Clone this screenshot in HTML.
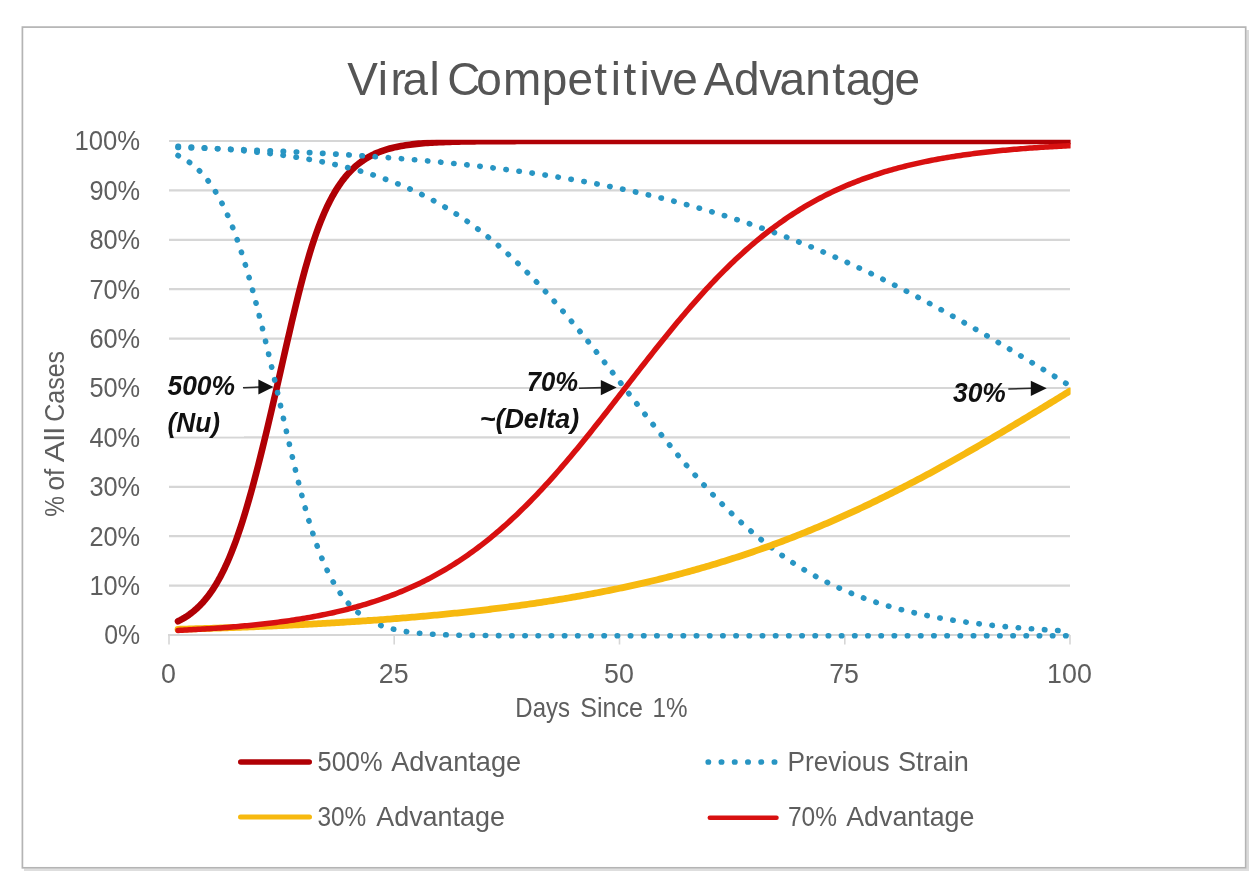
<!DOCTYPE html>
<html><head><meta charset="utf-8"><title>Viral Competitive Advantage</title>
<style>html,body{margin:0;padding:0;background:#fff;}body{width:1249px;height:871px;overflow:hidden;font-family:"Liberation Sans",sans-serif;}svg{display:block;will-change:transform;filter:blur(0.75px);}text{font-family:"Liberation Sans",sans-serif;}</style></head><body>
<svg width="1249" height="871" viewBox="0 0 1249 871">
<rect x="0" y="0" width="1249" height="871" fill="#ffffff"/>
<rect x="1246.5" y="30" width="3" height="841" fill="#dadada"/>
<rect x="24" y="868.6" width="1225" height="3" fill="#dedede"/>
<rect x="22.4" y="27.1" width="1223.3" height="840.7" fill="#ffffff" stroke="#b4b4b4" stroke-width="1.7"/>
<text transform="scale(0.9984,1)" x="347.73 378.40 391.19 403.18 430.18 442.04 448.05 477.12 503.79 542.71 568.42 595.26 611.68 624.46 640.42 651.22 673.34 698.70 704.71 735.25 760.44 780.79 806.50 833.55 847.04 871.97 895.85" y="94.6" font-size="46.0" fill="#555555" xml:space="preserve">Viral Competitive Advantage</text>
<line x1="169.0" y1="585.60" x2="1070.0" y2="585.60" stroke="#d6d6d6" stroke-width="2.2"/>
<line x1="169.0" y1="536.20" x2="1070.0" y2="536.20" stroke="#d6d6d6" stroke-width="2.2"/>
<line x1="169.0" y1="486.80" x2="1070.0" y2="486.80" stroke="#d6d6d6" stroke-width="2.2"/>
<line x1="169.0" y1="437.40" x2="1070.0" y2="437.40" stroke="#d6d6d6" stroke-width="2.2"/>
<line x1="169.0" y1="388.00" x2="1070.0" y2="388.00" stroke="#d6d6d6" stroke-width="2.2"/>
<line x1="169.0" y1="338.60" x2="1070.0" y2="338.60" stroke="#d6d6d6" stroke-width="2.2"/>
<line x1="169.0" y1="289.20" x2="1070.0" y2="289.20" stroke="#d6d6d6" stroke-width="2.2"/>
<line x1="169.0" y1="239.80" x2="1070.0" y2="239.80" stroke="#d6d6d6" stroke-width="2.2"/>
<line x1="169.0" y1="190.40" x2="1070.0" y2="190.40" stroke="#d6d6d6" stroke-width="2.2"/>
<line x1="169.0" y1="141.00" x2="1070.0" y2="141.00" stroke="#d6d6d6" stroke-width="2.2"/>
<line x1="168.0" y1="635.00" x2="1070.0" y2="635.00" stroke="#d6d6d6" stroke-width="2.2"/>
<line x1="169.0" y1="635.0" x2="169.0" y2="644.5" stroke="#d6d6d6" stroke-width="1.6"/>
<line x1="394.2" y1="635.0" x2="394.2" y2="644.5" stroke="#d6d6d6" stroke-width="1.6"/>
<line x1="619.5" y1="635.0" x2="619.5" y2="644.5" stroke="#d6d6d6" stroke-width="1.6"/>
<line x1="844.8" y1="635.0" x2="844.8" y2="644.5" stroke="#d6d6d6" stroke-width="1.6"/>
<line x1="1070.0" y1="635.0" x2="1070.0" y2="644.5" stroke="#d6d6d6" stroke-width="1.6"/>
<text x="104.3" y="644.3" font-size="28.0" fill="#5e5e5e" textLength="35.9" lengthAdjust="spacingAndGlyphs">0%</text>
<text x="89.4" y="594.9" font-size="28.0" fill="#5e5e5e" textLength="50.8" lengthAdjust="spacingAndGlyphs">10%</text>
<text x="89.4" y="545.5" font-size="28.0" fill="#5e5e5e" textLength="50.8" lengthAdjust="spacingAndGlyphs">20%</text>
<text x="89.4" y="496.1" font-size="28.0" fill="#5e5e5e" textLength="50.8" lengthAdjust="spacingAndGlyphs">30%</text>
<text x="89.4" y="446.7" font-size="28.0" fill="#5e5e5e" textLength="50.8" lengthAdjust="spacingAndGlyphs">40%</text>
<text x="89.4" y="397.3" font-size="28.0" fill="#5e5e5e" textLength="50.8" lengthAdjust="spacingAndGlyphs">50%</text>
<text x="89.4" y="347.9" font-size="28.0" fill="#5e5e5e" textLength="50.8" lengthAdjust="spacingAndGlyphs">60%</text>
<text x="89.4" y="298.5" font-size="28.0" fill="#5e5e5e" textLength="50.8" lengthAdjust="spacingAndGlyphs">70%</text>
<text x="89.4" y="249.1" font-size="28.0" fill="#5e5e5e" textLength="50.8" lengthAdjust="spacingAndGlyphs">80%</text>
<text x="89.4" y="199.7" font-size="28.0" fill="#5e5e5e" textLength="50.8" lengthAdjust="spacingAndGlyphs">90%</text>
<text x="74.5" y="150.3" font-size="28.0" fill="#5e5e5e" textLength="65.7" lengthAdjust="spacingAndGlyphs">100%</text>
<text x="161.0" y="683.1" font-size="28.0" fill="#5e5e5e" textLength="14.9" lengthAdjust="spacingAndGlyphs">0</text>
<text x="378.8" y="683.1" font-size="28.0" fill="#5e5e5e" textLength="29.8" lengthAdjust="spacingAndGlyphs">25</text>
<text x="604.0" y="683.1" font-size="28.0" fill="#5e5e5e" textLength="29.8" lengthAdjust="spacingAndGlyphs">50</text>
<text x="829.2" y="683.1" font-size="28.0" fill="#5e5e5e" textLength="29.8" lengthAdjust="spacingAndGlyphs">75</text>
<text x="1047.1" y="683.1" font-size="28.0" fill="#5e5e5e" textLength="44.7" lengthAdjust="spacingAndGlyphs">100</text>
<text x="515.3" y="716.8" font-size="28.0" fill="#5e5e5e" textLength="54.7" lengthAdjust="spacingAndGlyphs">Days</text>
<text x="580.3" y="716.8" font-size="28.0" fill="#5e5e5e" textLength="62.7" lengthAdjust="spacingAndGlyphs">Since</text>
<text x="652.5" y="716.8" font-size="28.0" fill="#5e5e5e" textLength="35.0" lengthAdjust="spacingAndGlyphs">1%</text>
<g transform="translate(63.9,516.7) rotate(-90)">
<text x="0.0" y="0.0" font-size="28.0" fill="#5e5e5e" textLength="20.7" lengthAdjust="spacingAndGlyphs">%</text>
<text x="26.2" y="0.0" font-size="28.0" fill="#5e5e5e" textLength="21.8" lengthAdjust="spacingAndGlyphs">of</text>
<text x="54.5" y="0.0" font-size="28.0" fill="#5e5e5e" textLength="34.9" lengthAdjust="spacingAndGlyphs">All</text>
<text x="94.9" y="0.0" font-size="28.0" fill="#5e5e5e" textLength="70.9" lengthAdjust="spacingAndGlyphs">Cases</text>
</g>
<rect x="160" y="368" width="84" height="68.5" fill="#ffffff"/>
<clipPath id="pc"><rect x="160" y="139.8" width="910.6" height="520"/></clipPath><g clip-path="url(#pc)">
<path d="M178.01,621.26 L180.24,620.14 L182.47,618.92 L184.70,617.60 L186.93,616.19 L189.16,614.66 L191.39,613.01 L193.62,611.24 L195.85,609.33 L198.08,607.28 L200.31,605.07 L202.54,602.71 L204.77,600.16 L207.00,597.44 L209.23,594.52 L211.46,591.39 L213.69,588.05 L215.92,584.48 L218.15,580.67 L220.38,576.62 L222.61,572.30 L224.84,567.72 L227.07,562.86 L229.30,557.72 L231.53,552.29 L233.76,546.56 L235.99,540.54 L238.22,534.22 L240.45,527.60 L242.68,520.69 L244.91,513.49 L247.14,506.02 L249.37,498.28 L251.60,490.29 L253.83,482.06 L256.06,473.61 L258.29,464.96 L260.52,456.12 L262.75,447.12 L264.98,437.96 L267.21,428.67 L269.44,419.25 L271.67,409.73 L273.90,400.12 L276.13,390.44 L278.36,380.70 L280.59,370.92 L282.82,361.12 L285.05,351.34 L287.28,341.59 L289.51,331.92 L291.74,322.35 L293.97,312.93 L296.20,303.68 L298.43,294.65 L300.66,285.87 L302.89,277.36 L305.12,269.16 L307.35,261.28 L309.58,253.75 L311.81,246.56 L314.04,239.73 L316.27,233.25 L318.50,227.12 L320.73,221.34 L322.96,215.90 L325.19,210.78 L327.42,205.97 L329.65,201.45 L331.88,197.22 L334.11,193.26 L336.34,189.55 L338.57,186.09 L340.80,182.85 L343.03,179.83 L345.26,177.01 L347.49,174.39 L349.72,171.94 L351.95,169.66 L354.18,167.54 L356.41,165.57 L358.64,163.74 L360.87,162.04 L363.10,160.46 L365.33,159.00 L367.56,157.64 L369.79,156.38 L372.02,155.21 L374.25,154.13 L376.48,153.13 L378.71,152.21 L380.94,151.35 L383.17,150.56 L385.40,149.83 L387.63,149.15 L389.86,148.52 L392.09,147.94 L394.32,147.41 L396.55,146.91 L398.78,146.46 L401.01,146.03 L403.24,145.64 L405.47,145.29 L407.70,144.95 L409.93,144.65 L412.16,144.36 L414.39,144.10 L416.62,143.86 L418.85,143.64 L421.08,143.43 L423.31,143.25 L425.54,143.07 L427.77,142.91 L430.00,142.76 L432.23,142.62 L434.46,142.50 L436.69,142.38 L438.92,142.27 L441.15,142.17 L443.38,142.08 L445.61,142.00 L447.84,141.92 L450.07,141.85 L452.30,141.78 L454.53,141.72 L456.76,141.67 L458.99,141.61 L461.22,141.57 L463.45,141.52 L465.68,141.48 L467.91,141.44 L470.14,141.41 L472.37,141.38 L474.60,141.35 L476.83,141.32 L479.06,141.30 L481.29,141.27 L483.52,141.25 L485.75,141.23 L487.98,141.21 L490.21,141.20 L492.44,141.18 L494.67,141.17 L496.90,141.15 L499.13,141.14 L501.36,141.13 L503.59,141.12 L505.82,141.11 L508.05,141.10 L510.28,141.09 L512.51,141.09 L514.74,141.08 L516.97,141.07 L519.20,141.07 L521.43,141.06 L523.66,141.06 L525.89,141.05 L528.12,141.05 L530.35,141.05 L532.58,141.04 L534.81,141.04 L537.04,141.04 L539.27,141.03 L541.50,141.03 L543.73,141.03 L545.96,141.03 L548.19,141.02 L550.42,141.02 L552.65,141.02 L554.88,141.02 L557.11,141.02 L559.34,141.02 L561.57,141.01 L563.80,141.01 L566.03,141.01 L568.26,141.01 L570.49,141.01 L572.72,141.01 L574.95,141.01 L577.18,141.01 L579.41,141.01 L581.64,141.01 L583.87,141.01 L586.10,141.01 L588.33,141.01 L590.56,141.01 L592.79,141.00 L595.02,141.00 L597.25,141.00 L599.48,141.00 L601.71,141.00 L603.94,141.00 L606.17,141.00 L608.40,141.00 L610.63,141.00 L612.86,141.00 L615.09,141.00 L617.32,141.00 L619.55,141.00 L621.78,141.00 L624.00,141.00 L626.23,141.00 L628.46,141.00 L630.69,141.00 L632.92,141.00 L635.15,141.00 L637.38,141.00 L639.61,141.00 L641.84,141.00 L644.07,141.00 L646.30,141.00 L648.53,141.00 L650.76,141.00 L652.99,141.00 L655.22,141.00 L657.45,141.00 L659.68,141.00 L661.91,141.00 L664.14,141.00 L666.37,141.00 L668.60,141.00 L670.83,141.00 L673.06,141.00 L675.29,141.00 L677.52,141.00 L679.75,141.00 L681.98,141.00 L684.21,141.00 L686.44,141.00 L688.67,141.00 L690.90,141.00 L693.13,141.00 L695.36,141.00 L697.59,141.00 L699.82,141.00 L702.05,141.00 L704.28,141.00 L706.51,141.00 L708.74,141.00 L710.97,141.00 L713.20,141.00 L715.43,141.00 L717.66,141.00 L719.89,141.00 L722.12,141.00 L724.35,141.00 L726.58,141.00 L728.81,141.00 L731.04,141.00 L733.27,141.00 L735.50,141.00 L737.73,141.00 L739.96,141.00 L742.19,141.00 L744.42,141.00 L746.65,141.00 L748.88,141.00 L751.11,141.00 L753.34,141.00 L755.57,141.00 L757.80,141.00 L760.03,141.00 L762.26,141.00 L764.49,141.00 L766.72,141.00 L768.95,141.00 L771.18,141.00 L773.41,141.00 L775.64,141.00 L777.87,141.00 L780.10,141.00 L782.33,141.00 L784.56,141.00 L786.79,141.00 L789.02,141.00 L791.25,141.00 L793.48,141.00 L795.71,141.00 L797.94,141.00 L800.17,141.00 L802.40,141.00 L804.63,141.00 L806.86,141.00 L809.09,141.00 L811.32,141.00 L813.55,141.00 L815.78,141.00 L818.01,141.00 L820.24,141.00 L822.47,141.00 L824.70,141.00 L826.93,141.00 L829.16,141.00 L831.39,141.00 L833.62,141.00 L835.85,141.00 L838.08,141.00 L840.31,141.00 L842.54,141.00 L844.77,141.00 L847.00,141.00 L849.23,141.00 L851.46,141.00 L853.69,141.00 L855.92,141.00 L858.15,141.00 L860.38,141.00 L862.61,141.00 L864.84,141.00 L867.07,141.00 L869.30,141.00 L871.53,141.00 L873.76,141.00 L875.99,141.00 L878.22,141.00 L880.45,141.00 L882.68,141.00 L884.91,141.00 L887.14,141.00 L889.37,141.00 L891.60,141.00 L893.83,141.00 L896.06,141.00 L898.29,141.00 L900.52,141.00 L902.75,141.00 L904.98,141.00 L907.21,141.00 L909.44,141.00 L911.67,141.00 L913.90,141.00 L916.13,141.00 L918.36,141.00 L920.59,141.00 L922.82,141.00 L925.05,141.00 L927.28,141.00 L929.51,141.00 L931.74,141.00 L933.97,141.00 L936.20,141.00 L938.43,141.00 L940.66,141.00 L942.89,141.00 L945.12,141.00 L947.35,141.00 L949.58,141.00 L951.81,141.00 L954.04,141.00 L956.27,141.00 L958.50,141.00 L960.73,141.00 L962.96,141.00 L965.19,141.00 L967.42,141.00 L969.65,141.00 L971.88,141.00 L974.11,141.00 L976.34,141.00 L978.57,141.00 L980.80,141.00 L983.03,141.00 L985.26,141.00 L987.49,141.00 L989.72,141.00 L991.95,141.00 L994.18,141.00 L996.41,141.00 L998.64,141.00 L1000.87,141.00 L1003.10,141.00 L1005.33,141.00 L1007.56,141.00 L1009.79,141.00 L1012.02,141.00 L1014.25,141.00 L1016.48,141.00 L1018.71,141.00 L1020.94,141.00 L1023.17,141.00 L1025.40,141.00 L1027.63,141.00 L1029.86,141.00 L1032.09,141.00 L1034.32,141.00 L1036.55,141.00 L1038.78,141.00 L1041.01,141.00 L1043.24,141.00 L1045.47,141.00 L1047.70,141.00 L1049.93,141.00 L1052.16,141.00 L1054.39,141.00 L1056.62,141.00 L1058.85,141.00 L1061.08,141.00 L1063.31,141.00 L1065.54,141.00 L1067.77,141.00 L1070.00,141.00" fill="none" stroke="#b00005" stroke-width="6.6" stroke-linecap="round" stroke-linejoin="round"/>
<path d="M178.01,155.53 L180.24,156.65 L182.47,157.87 L184.70,159.19 L186.93,160.60 L189.16,162.13 L191.39,163.78 L193.62,165.55 L195.85,167.46 L198.08,169.51 L200.31,171.72 L202.54,174.08 L204.77,176.63 L207.00,179.35 L209.23,182.27 L211.46,185.40 L213.69,188.74 L215.92,192.31 L218.15,196.12 L220.38,200.17 L222.61,204.49 L224.84,209.07 L227.07,213.93 L229.30,219.07 L231.53,224.50 L233.76,230.23 L235.99,236.25 L238.22,242.57 L240.45,249.19 L242.68,256.10 L244.91,263.30 L247.14,270.77 L249.37,278.51 L251.60,286.50 L253.83,294.73 L256.06,303.18 L258.29,311.83 L260.52,320.67 L262.75,329.67 L264.98,338.83 L267.21,348.12 L269.44,357.54 L271.67,367.06 L273.90,376.67 L276.13,386.35 L278.36,396.09 L280.59,405.87 L282.82,415.67 L285.05,425.45 L287.28,435.20 L289.51,444.87 L291.74,454.44 L293.97,463.86 L296.20,473.11 L298.43,482.14 L300.66,490.92 L302.89,499.43 L305.12,507.63 L307.35,515.51 L309.58,523.04 L311.81,530.23 L314.04,537.06 L316.27,543.54 L318.50,549.67 L320.73,555.45 L322.96,560.89 L325.19,566.01 L327.42,570.82 L329.65,575.34 L331.88,579.57 L334.11,583.53 L336.34,587.24 L338.57,590.70 L340.80,593.94 L343.03,596.96 L345.26,599.78 L347.49,602.40 L349.72,604.85 L351.95,607.13 L354.18,609.25 L356.41,611.22 L358.64,613.05 L360.87,614.75 L363.10,616.33 L365.33,617.79 L367.56,619.15 L369.79,620.41 L372.02,621.58 L374.25,622.66 L376.48,623.66 L378.71,624.58 L380.94,625.44 L383.17,626.23 L385.40,626.97 L387.63,627.64 L389.86,628.27 L392.09,628.85 L394.32,629.38 L396.55,629.88 L398.78,630.33 L401.01,630.76 L403.24,631.15 L405.47,631.51 L407.70,631.84 L409.93,632.14 L412.16,632.43 L414.39,632.69 L416.62,632.93 L418.85,633.15 L421.08,633.36 L423.31,633.54 L425.54,633.72 L427.77,633.88 L430.00,634.03 L432.23,634.17 L434.46,634.29 L436.69,634.41 L438.92,634.52 L441.15,634.62 L443.38,634.71 L445.61,634.79 L447.84,634.87 L450.07,634.94 L452.30,635.01 L454.53,635.07 L456.76,635.13 L458.99,635.18 L461.22,635.22 L463.45,635.27 L465.68,635.31 L467.91,635.35 L470.14,635.38 L472.37,635.41 L474.60,635.44 L476.83,635.47 L479.06,635.50 L481.29,635.52 L483.52,635.54 L485.75,635.56 L487.98,635.58 L490.21,635.59 L492.44,635.61 L494.67,635.62 L496.90,635.64 L499.13,635.65 L501.36,635.66 L503.59,635.67 L505.82,635.68 L508.05,635.69 L510.28,635.70 L512.51,635.70 L514.74,635.71 L516.97,635.72 L519.20,635.72 L521.43,635.73 L523.66,635.73 L525.89,635.74 L528.12,635.74 L530.35,635.74 L532.58,635.75 L534.81,635.75 L537.04,635.75 L539.27,635.76 L541.50,635.76 L543.73,635.76 L545.96,635.76 L548.19,635.77 L550.42,635.77 L552.65,635.77 L554.88,635.77 L557.11,635.77 L559.34,635.77 L561.57,635.78 L563.80,635.78 L566.03,635.78 L568.26,635.78 L570.49,635.78 L572.72,635.78 L574.95,635.78 L577.18,635.78 L579.41,635.78 L581.64,635.78 L583.87,635.78 L586.10,635.78 L588.33,635.78 L590.56,635.79 L592.79,635.79 L595.02,635.79 L597.25,635.79 L599.48,635.79 L601.71,635.79 L603.94,635.79 L606.17,635.79 L608.40,635.79 L610.63,635.79 L612.86,635.79 L615.09,635.79 L617.32,635.79 L619.55,635.79 L621.78,635.79 L624.00,635.79 L626.23,635.79 L628.46,635.79 L630.69,635.79 L632.92,635.79 L635.15,635.79 L637.38,635.79 L639.61,635.79 L641.84,635.79 L644.07,635.79 L646.30,635.79 L648.53,635.79 L650.76,635.79 L652.99,635.79 L655.22,635.79 L657.45,635.79 L659.68,635.79 L661.91,635.79 L664.14,635.79 L666.37,635.79 L668.60,635.79 L670.83,635.79 L673.06,635.79 L675.29,635.79 L677.52,635.79 L679.75,635.79 L681.98,635.79 L684.21,635.79 L686.44,635.79 L688.67,635.79 L690.90,635.79 L693.13,635.79 L695.36,635.79 L697.59,635.79 L699.82,635.79 L702.05,635.79 L704.28,635.79 L706.51,635.79 L708.74,635.79 L710.97,635.79 L713.20,635.79 L715.43,635.79 L717.66,635.79 L719.89,635.79 L722.12,635.79 L724.35,635.79 L726.58,635.79 L728.81,635.79 L731.04,635.79 L733.27,635.79 L735.50,635.79 L737.73,635.79 L739.96,635.79 L742.19,635.79 L744.42,635.79 L746.65,635.79 L748.88,635.79 L751.11,635.79 L753.34,635.79 L755.57,635.79 L757.80,635.79 L760.03,635.79 L762.26,635.79 L764.49,635.79 L766.72,635.79 L768.95,635.79 L771.18,635.79 L773.41,635.79 L775.64,635.79 L777.87,635.79 L780.10,635.79 L782.33,635.79 L784.56,635.79 L786.79,635.79 L789.02,635.79 L791.25,635.79 L793.48,635.79 L795.71,635.79 L797.94,635.79 L800.17,635.79 L802.40,635.79 L804.63,635.79 L806.86,635.79 L809.09,635.79 L811.32,635.79 L813.55,635.79 L815.78,635.79 L818.01,635.79 L820.24,635.79 L822.47,635.79 L824.70,635.79 L826.93,635.79 L829.16,635.79 L831.39,635.79 L833.62,635.79 L835.85,635.79 L838.08,635.79 L840.31,635.79 L842.54,635.79 L844.77,635.79 L847.00,635.79 L849.23,635.79 L851.46,635.79 L853.69,635.79 L855.92,635.79 L858.15,635.79 L860.38,635.79 L862.61,635.79 L864.84,635.79 L867.07,635.79 L869.30,635.79 L871.53,635.79 L873.76,635.79 L875.99,635.79 L878.22,635.79 L880.45,635.79 L882.68,635.79 L884.91,635.79 L887.14,635.79 L889.37,635.79 L891.60,635.79 L893.83,635.79 L896.06,635.79 L898.29,635.79 L900.52,635.79 L902.75,635.79 L904.98,635.79 L907.21,635.79 L909.44,635.79 L911.67,635.79 L913.90,635.79 L916.13,635.79 L918.36,635.79 L920.59,635.79 L922.82,635.79 L925.05,635.79 L927.28,635.79 L929.51,635.79 L931.74,635.79 L933.97,635.79 L936.20,635.79 L938.43,635.79 L940.66,635.79 L942.89,635.79 L945.12,635.79 L947.35,635.79 L949.58,635.79 L951.81,635.79 L954.04,635.79 L956.27,635.79 L958.50,635.79 L960.73,635.79 L962.96,635.79 L965.19,635.79 L967.42,635.79 L969.65,635.79 L971.88,635.79 L974.11,635.79 L976.34,635.79 L978.57,635.79 L980.80,635.79 L983.03,635.79 L985.26,635.79 L987.49,635.79 L989.72,635.79 L991.95,635.79 L994.18,635.79 L996.41,635.79 L998.64,635.79 L1000.87,635.79 L1003.10,635.79 L1005.33,635.79 L1007.56,635.79 L1009.79,635.79 L1012.02,635.79 L1014.25,635.79 L1016.48,635.79 L1018.71,635.79 L1020.94,635.79 L1023.17,635.79 L1025.40,635.79 L1027.63,635.79 L1029.86,635.79 L1032.09,635.79 L1034.32,635.79 L1036.55,635.79 L1038.78,635.79 L1041.01,635.79 L1043.24,635.79 L1045.47,635.79 L1047.70,635.79 L1049.93,635.79 L1052.16,635.79 L1054.39,635.79 L1056.62,635.79 L1058.85,635.79 L1061.08,635.79 L1063.31,635.79 L1065.54,635.79 L1067.77,635.79 L1070.00,635.79" fill="none" stroke="#2895c3" stroke-width="5.6" stroke-dasharray="0.4 12.79" stroke-linecap="round"/>
<path d="M178.01,146.38 L180.24,146.48 L182.47,146.59 L184.70,146.71 L186.93,146.82 L189.16,146.94 L191.39,147.06 L193.62,147.18 L195.85,147.31 L198.08,147.43 L200.31,147.57 L202.54,147.70 L204.77,147.84 L207.00,147.98 L209.23,148.12 L211.46,148.27 L213.69,148.42 L215.92,148.57 L218.15,148.73 L220.38,148.89 L222.61,149.06 L224.84,149.23 L227.07,149.40 L229.30,149.57 L231.53,149.76 L233.76,149.94 L235.99,150.13 L238.22,150.32 L240.45,150.52 L242.68,150.72 L244.91,150.93 L247.14,151.14 L249.37,151.36 L251.60,151.58 L253.83,151.80 L256.06,152.03 L258.29,152.27 L260.52,152.51 L262.75,152.76 L264.98,153.01 L267.21,153.27 L269.44,153.53 L271.67,153.80 L273.90,154.08 L276.13,154.36 L278.36,154.65 L280.59,154.94 L282.82,155.25 L285.05,155.55 L287.28,155.87 L289.51,156.19 L291.74,156.52 L293.97,156.86 L296.20,157.20 L298.43,157.55 L300.66,157.91 L302.89,158.28 L305.12,158.65 L307.35,159.04 L309.58,159.43 L311.81,159.83 L314.04,160.24 L316.27,160.66 L318.50,161.08 L320.73,161.52 L322.96,161.97 L325.19,162.42 L327.42,162.89 L329.65,163.36 L331.88,163.85 L334.11,164.34 L336.34,164.85 L338.57,165.37 L340.80,165.90 L343.03,166.44 L345.26,166.99 L347.49,167.55 L349.72,168.12 L351.95,168.71 L354.18,169.31 L356.41,169.92 L358.64,170.55 L360.87,171.18 L363.10,171.83 L365.33,172.50 L367.56,173.18 L369.79,173.87 L372.02,174.57 L374.25,175.29 L376.48,176.03 L378.71,176.78 L380.94,177.54 L383.17,178.32 L385.40,179.12 L387.63,179.93 L389.86,180.76 L392.09,181.60 L394.32,182.46 L396.55,183.34 L398.78,184.24 L401.01,185.15 L403.24,186.08 L405.47,187.03 L407.70,187.99 L409.93,188.98 L412.16,189.98 L414.39,191.00 L416.62,192.04 L418.85,193.10 L421.08,194.19 L423.31,195.29 L425.54,196.41 L427.77,197.55 L430.00,198.71 L432.23,199.90 L434.46,201.10 L436.69,202.33 L438.92,203.57 L441.15,204.84 L443.38,206.14 L445.61,207.45 L447.84,208.79 L450.07,210.15 L452.30,211.53 L454.53,212.94 L456.76,214.37 L458.99,215.82 L461.22,217.30 L463.45,218.80 L465.68,220.33 L467.91,221.88 L470.14,223.45 L472.37,225.05 L474.60,226.68 L476.83,228.33 L479.06,230.00 L481.29,231.70 L483.52,233.43 L485.75,235.18 L487.98,236.96 L490.21,238.76 L492.44,240.59 L494.67,242.44 L496.90,244.32 L499.13,246.23 L501.36,248.16 L503.59,250.11 L505.82,252.10 L508.05,254.10 L510.28,256.14 L512.51,258.20 L514.74,260.28 L516.97,262.39 L519.20,264.53 L521.43,266.69 L523.66,268.88 L525.89,271.09 L528.12,273.32 L530.35,275.58 L532.58,277.87 L534.81,280.17 L537.04,282.51 L539.27,284.86 L541.50,287.24 L543.73,289.64 L545.96,292.07 L548.19,294.51 L550.42,296.98 L552.65,299.47 L554.88,301.98 L557.11,304.51 L559.34,307.06 L561.57,309.63 L563.80,312.22 L566.03,314.83 L568.26,317.46 L570.49,320.11 L572.72,322.77 L574.95,325.45 L577.18,328.14 L579.41,330.85 L581.64,333.58 L583.87,336.32 L586.10,339.07 L588.33,341.84 L590.56,344.62 L592.79,347.41 L595.02,350.21 L597.25,353.02 L599.48,355.84 L601.71,358.67 L603.94,361.50 L606.17,364.35 L608.40,367.20 L610.63,370.06 L612.86,372.92 L615.09,375.79 L617.32,378.66 L619.55,381.53 L621.78,384.40 L624.00,387.28 L626.23,390.16 L628.46,393.03 L630.69,395.91 L632.92,398.78 L635.15,401.65 L637.38,404.52 L639.61,407.38 L641.84,410.24 L644.07,413.09 L646.30,415.93 L648.53,418.77 L650.76,421.60 L652.99,424.42 L655.22,427.23 L657.45,430.03 L659.68,432.82 L661.91,435.60 L664.14,438.37 L666.37,441.12 L668.60,443.86 L670.83,446.59 L673.06,449.30 L675.29,452.00 L677.52,454.68 L679.75,457.34 L681.98,459.99 L684.21,462.62 L686.44,465.23 L688.67,467.82 L690.90,470.39 L693.13,472.94 L695.36,475.47 L697.59,477.99 L699.82,480.48 L702.05,482.94 L704.28,485.39 L706.51,487.82 L708.74,490.22 L710.97,492.60 L713.20,494.96 L715.43,497.29 L717.66,499.60 L719.89,501.88 L722.12,504.15 L724.35,506.38 L726.58,508.59 L728.81,510.78 L731.04,512.94 L733.27,515.08 L735.50,517.19 L737.73,519.28 L739.96,521.34 L742.19,523.37 L744.42,525.38 L746.65,527.37 L748.88,529.33 L751.11,531.26 L753.34,533.16 L755.57,535.05 L757.80,536.90 L760.03,538.73 L762.26,540.53 L764.49,542.31 L766.72,544.06 L768.95,545.79 L771.18,547.49 L773.41,549.17 L775.64,550.82 L777.87,552.45 L780.10,554.05 L782.33,555.62 L784.56,557.17 L786.79,558.70 L789.02,560.20 L791.25,561.68 L793.48,563.14 L795.71,564.57 L797.94,565.98 L800.17,567.36 L802.40,568.72 L804.63,570.06 L806.86,571.38 L809.09,572.67 L811.32,573.94 L813.55,575.19 L815.78,576.42 L818.01,577.63 L820.24,578.81 L822.47,579.97 L824.70,581.12 L826.93,582.24 L829.16,583.34 L831.39,584.42 L833.62,585.48 L835.85,586.53 L838.08,587.55 L840.31,588.55 L842.54,589.54 L844.77,590.51 L847.00,591.46 L849.23,592.39 L851.46,593.30 L853.69,594.20 L855.92,595.07 L858.15,595.94 L860.38,596.78 L862.61,597.61 L864.84,598.42 L867.07,599.22 L869.30,600.00 L871.53,600.77 L873.76,601.52 L875.99,602.25 L878.22,602.97 L880.45,603.68 L882.68,604.37 L884.91,605.05 L887.14,605.71 L889.37,606.36 L891.60,607.00 L893.83,607.63 L896.06,608.24 L898.29,608.84 L900.52,609.43 L902.75,610.00 L904.98,610.57 L907.21,611.12 L909.44,611.66 L911.67,612.19 L913.90,612.70 L916.13,613.21 L918.36,613.71 L920.59,614.19 L922.82,614.67 L925.05,615.14 L927.28,615.59 L929.51,616.04 L931.74,616.48 L933.97,616.90 L936.20,617.32 L938.43,617.73 L940.66,618.13 L942.89,618.52 L945.12,618.91 L947.35,619.28 L949.58,619.65 L951.81,620.01 L954.04,620.36 L956.27,620.71 L958.50,621.04 L960.73,621.37 L962.96,621.70 L965.19,622.01 L967.42,622.32 L969.65,622.62 L971.88,622.92 L974.11,623.21 L976.34,623.49 L978.57,623.76 L980.80,624.03 L983.03,624.30 L985.26,624.56 L987.49,624.81 L989.72,625.06 L991.95,625.30 L994.18,625.54 L996.41,625.77 L998.64,625.99 L1000.87,626.21 L1003.10,626.43 L1005.33,626.64 L1007.56,626.85 L1009.79,627.05 L1012.02,627.25 L1014.25,627.44 L1016.48,627.63 L1018.71,627.82 L1020.94,628.00 L1023.17,628.17 L1025.40,628.35 L1027.63,628.52 L1029.86,628.68 L1032.09,628.84 L1034.32,629.00 L1036.55,629.15 L1038.78,629.30 L1041.01,629.45 L1043.24,629.60 L1045.47,629.74 L1047.70,629.87 L1049.93,630.01 L1052.16,630.14 L1054.39,630.27 L1056.62,630.39 L1058.85,630.52 L1061.08,630.64 L1063.31,630.76 L1065.54,630.87 L1067.77,630.98 L1070.00,631.09" fill="none" stroke="#2895c3" stroke-width="5.6" stroke-dasharray="0.4 12.77" stroke-linecap="round"/>
<path d="M178.01,147.50 L180.24,147.56 L182.47,147.62 L184.70,147.69 L186.93,147.75 L189.16,147.82 L191.39,147.88 L193.62,147.95 L195.85,148.02 L198.08,148.09 L200.31,148.16 L202.54,148.22 L204.77,148.30 L207.00,148.37 L209.23,148.44 L211.46,148.51 L213.69,148.59 L215.92,148.66 L218.15,148.74 L220.38,148.81 L222.61,148.89 L224.84,148.97 L227.07,149.05 L229.30,149.12 L231.53,149.21 L233.76,149.29 L235.99,149.37 L238.22,149.45 L240.45,149.54 L242.68,149.62 L244.91,149.71 L247.14,149.79 L249.37,149.88 L251.60,149.97 L253.83,150.06 L256.06,150.15 L258.29,150.24 L260.52,150.33 L262.75,150.43 L264.98,150.52 L267.21,150.62 L269.44,150.71 L271.67,150.81 L273.90,150.91 L276.13,151.01 L278.36,151.11 L280.59,151.21 L282.82,151.31 L285.05,151.42 L287.28,151.52 L289.51,151.63 L291.74,151.73 L293.97,151.84 L296.20,151.95 L298.43,152.06 L300.66,152.18 L302.89,152.29 L305.12,152.40 L307.35,152.52 L309.58,152.63 L311.81,152.75 L314.04,152.87 L316.27,152.99 L318.50,153.11 L320.73,153.24 L322.96,153.36 L325.19,153.49 L327.42,153.61 L329.65,153.74 L331.88,153.87 L334.11,154.00 L336.34,154.14 L338.57,154.27 L340.80,154.40 L343.03,154.54 L345.26,154.68 L347.49,154.82 L349.72,154.96 L351.95,155.10 L354.18,155.25 L356.41,155.39 L358.64,155.54 L360.87,155.69 L363.10,155.84 L365.33,155.99 L367.56,156.14 L369.79,156.30 L372.02,156.46 L374.25,156.61 L376.48,156.77 L378.71,156.94 L380.94,157.10 L383.17,157.26 L385.40,157.43 L387.63,157.60 L389.86,157.77 L392.09,157.94 L394.32,158.11 L396.55,158.29 L398.78,158.47 L401.01,158.65 L403.24,158.83 L405.47,159.01 L407.70,159.20 L409.93,159.38 L412.16,159.57 L414.39,159.76 L416.62,159.95 L418.85,160.15 L421.08,160.34 L423.31,160.54 L425.54,160.74 L427.77,160.95 L430.00,161.15 L432.23,161.36 L434.46,161.57 L436.69,161.78 L438.92,161.99 L441.15,162.21 L443.38,162.42 L445.61,162.64 L447.84,162.87 L450.07,163.09 L452.30,163.32 L454.53,163.55 L456.76,163.78 L458.99,164.01 L461.22,164.25 L463.45,164.49 L465.68,164.73 L467.91,164.97 L470.14,165.22 L472.37,165.46 L474.60,165.71 L476.83,165.97 L479.06,166.22 L481.29,166.48 L483.52,166.74 L485.75,167.01 L487.98,167.27 L490.21,167.54 L492.44,167.81 L494.67,168.09 L496.90,168.36 L499.13,168.64 L501.36,168.92 L503.59,169.21 L505.82,169.50 L508.05,169.79 L510.28,170.08 L512.51,170.38 L514.74,170.68 L516.97,170.98 L519.20,171.29 L521.43,171.59 L523.66,171.90 L525.89,172.22 L528.12,172.54 L530.35,172.86 L532.58,173.18 L534.81,173.51 L537.04,173.84 L539.27,174.17 L541.50,174.51 L543.73,174.85 L545.96,175.19 L548.19,175.54 L550.42,175.89 L552.65,176.24 L554.88,176.59 L557.11,176.95 L559.34,177.32 L561.57,177.68 L563.80,178.05 L566.03,178.43 L568.26,178.80 L570.49,179.18 L572.72,179.57 L574.95,179.96 L577.18,180.35 L579.41,180.74 L581.64,181.14 L583.87,181.54 L586.10,181.95 L588.33,182.36 L590.56,182.77 L592.79,183.19 L595.02,183.61 L597.25,184.04 L599.48,184.47 L601.71,184.90 L603.94,185.34 L606.17,185.78 L608.40,186.23 L610.63,186.68 L612.86,187.13 L615.09,187.59 L617.32,188.05 L619.55,188.51 L621.78,188.98 L624.00,189.46 L626.23,189.94 L628.46,190.42 L630.69,190.91 L632.92,191.40 L635.15,191.90 L637.38,192.40 L639.61,192.90 L641.84,193.41 L644.07,193.92 L646.30,194.44 L648.53,194.96 L650.76,195.49 L652.99,196.02 L655.22,196.56 L657.45,197.10 L659.68,197.65 L661.91,198.20 L664.14,198.75 L666.37,199.31 L668.60,199.88 L670.83,200.45 L673.06,201.02 L675.29,201.60 L677.52,202.18 L679.75,202.77 L681.98,203.37 L684.21,203.96 L686.44,204.57 L688.67,205.18 L690.90,205.79 L693.13,206.41 L695.36,207.03 L697.59,207.66 L699.82,208.30 L702.05,208.94 L704.28,209.58 L706.51,210.23 L708.74,210.89 L710.97,211.55 L713.20,212.21 L715.43,212.88 L717.66,213.56 L719.89,214.24 L722.12,214.93 L724.35,215.62 L726.58,216.31 L728.81,217.02 L731.04,217.73 L733.27,218.44 L735.50,219.16 L737.73,219.88 L739.96,220.61 L742.19,221.35 L744.42,222.09 L746.65,222.84 L748.88,223.59 L751.11,224.35 L753.34,225.11 L755.57,225.88 L757.80,226.65 L760.03,227.44 L762.26,228.22 L764.49,229.01 L766.72,229.81 L768.95,230.61 L771.18,231.42 L773.41,232.24 L775.64,233.06 L777.87,233.88 L780.10,234.72 L782.33,235.55 L784.56,236.40 L786.79,237.24 L789.02,238.10 L791.25,238.96 L793.48,239.83 L795.71,240.70 L797.94,241.58 L800.17,242.46 L802.40,243.35 L804.63,244.25 L806.86,245.15 L809.09,246.05 L811.32,246.97 L813.55,247.89 L815.78,248.81 L818.01,249.74 L820.24,250.68 L822.47,251.62 L824.70,252.57 L826.93,253.52 L829.16,254.48 L831.39,255.45 L833.62,256.42 L835.85,257.39 L838.08,258.38 L840.31,259.36 L842.54,260.36 L844.77,261.36 L847.00,262.36 L849.23,263.37 L851.46,264.39 L853.69,265.41 L855.92,266.44 L858.15,267.48 L860.38,268.52 L862.61,269.56 L864.84,270.61 L867.07,271.67 L869.30,272.73 L871.53,273.80 L873.76,274.87 L875.99,275.95 L878.22,277.03 L880.45,278.12 L882.68,279.22 L884.91,280.32 L887.14,281.42 L889.37,282.53 L891.60,283.65 L893.83,284.77 L896.06,285.90 L898.29,287.03 L900.52,288.17 L902.75,289.31 L904.98,290.46 L907.21,291.61 L909.44,292.77 L911.67,293.93 L913.90,295.09 L916.13,296.27 L918.36,297.44 L920.59,298.63 L922.82,299.81 L925.05,301.00 L927.28,302.20 L929.51,303.40 L931.74,304.61 L933.97,305.82 L936.20,307.03 L938.43,308.25 L940.66,309.47 L942.89,310.70 L945.12,311.93 L947.35,313.17 L949.58,314.41 L951.81,315.65 L954.04,316.90 L956.27,318.15 L958.50,319.41 L960.73,320.67 L962.96,321.93 L965.19,323.20 L967.42,324.47 L969.65,325.75 L971.88,327.03 L974.11,328.31 L976.34,329.60 L978.57,330.89 L980.80,332.18 L983.03,333.48 L985.26,334.78 L987.49,336.08 L989.72,337.38 L991.95,338.69 L994.18,340.00 L996.41,341.32 L998.64,342.64 L1000.87,343.96 L1003.10,345.28 L1005.33,346.60 L1007.56,347.93 L1009.79,349.26 L1012.02,350.59 L1014.25,351.93 L1016.48,353.27 L1018.71,354.61 L1020.94,355.95 L1023.17,357.29 L1025.40,358.63 L1027.63,359.98 L1029.86,361.33 L1032.09,362.68 L1034.32,364.03 L1036.55,365.39 L1038.78,366.74 L1041.01,368.10 L1043.24,369.45 L1045.47,370.81 L1047.70,372.17 L1049.93,373.53 L1052.16,374.89 L1054.39,376.26 L1056.62,377.62 L1058.85,378.98 L1061.08,380.35 L1063.31,381.71 L1065.54,383.08 L1067.77,384.44 L1070.00,385.81" fill="none" stroke="#2895c3" stroke-width="5.6" stroke-dasharray="0.4 12.75" stroke-linecap="round"/>
<path d="M178.01,629.29 L180.24,629.23 L182.47,629.17 L184.70,629.10 L186.93,629.04 L189.16,628.97 L191.39,628.91 L193.62,628.84 L195.85,628.77 L198.08,628.70 L200.31,628.64 L202.54,628.57 L204.77,628.49 L207.00,628.42 L209.23,628.35 L211.46,628.28 L213.69,628.20 L215.92,628.13 L218.15,628.05 L220.38,627.98 L222.61,627.90 L224.84,627.82 L227.07,627.74 L229.30,627.67 L231.53,627.59 L233.76,627.50 L235.99,627.42 L238.22,627.34 L240.45,627.25 L242.68,627.17 L244.91,627.08 L247.14,627.00 L249.37,626.91 L251.60,626.82 L253.83,626.73 L256.06,626.64 L258.29,626.55 L260.52,626.46 L262.75,626.36 L264.98,626.27 L267.21,626.17 L269.44,626.08 L271.67,625.98 L273.90,625.88 L276.13,625.78 L278.36,625.68 L280.59,625.58 L282.82,625.48 L285.05,625.37 L287.28,625.27 L289.51,625.16 L291.74,625.06 L293.97,624.95 L296.20,624.84 L298.43,624.73 L300.66,624.62 L302.89,624.50 L305.12,624.39 L307.35,624.27 L309.58,624.16 L311.81,624.04 L314.04,623.92 L316.27,623.80 L318.50,623.68 L320.73,623.55 L322.96,623.43 L325.19,623.30 L327.42,623.18 L329.65,623.05 L331.88,622.92 L334.11,622.79 L336.34,622.65 L338.57,622.52 L340.80,622.39 L343.03,622.25 L345.26,622.11 L347.49,621.97 L349.72,621.83 L351.95,621.69 L354.18,621.54 L356.41,621.40 L358.64,621.25 L360.87,621.10 L363.10,620.95 L365.33,620.80 L367.56,620.65 L369.79,620.49 L372.02,620.33 L374.25,620.18 L376.48,620.02 L378.71,619.86 L380.94,619.69 L383.17,619.53 L385.40,619.36 L387.63,619.19 L389.86,619.02 L392.09,618.85 L394.32,618.68 L396.55,618.50 L398.78,618.32 L401.01,618.14 L403.24,617.96 L405.47,617.78 L407.70,617.60 L409.93,617.41 L412.16,617.22 L414.39,617.03 L416.62,616.84 L418.85,616.64 L421.08,616.45 L423.31,616.25 L425.54,616.05 L427.77,615.84 L430.00,615.64 L432.23,615.43 L434.46,615.22 L436.69,615.01 L438.92,614.80 L441.15,614.58 L443.38,614.37 L445.61,614.15 L447.84,613.92 L450.07,613.70 L452.30,613.47 L454.53,613.24 L456.76,613.01 L458.99,612.78 L461.22,612.54 L463.45,612.30 L465.68,612.06 L467.91,611.82 L470.14,611.58 L472.37,611.33 L474.60,611.08 L476.83,610.82 L479.06,610.57 L481.29,610.31 L483.52,610.05 L485.75,609.79 L487.98,609.52 L490.21,609.25 L492.44,608.98 L494.67,608.70 L496.90,608.43 L499.13,608.15 L501.36,607.87 L503.59,607.58 L505.82,607.29 L508.05,607.00 L510.28,606.71 L512.51,606.41 L514.74,606.11 L516.97,605.81 L519.20,605.51 L521.43,605.20 L523.66,604.89 L525.89,604.57 L528.12,604.25 L530.35,603.93 L532.58,603.61 L534.81,603.28 L537.04,602.95 L539.27,602.62 L541.50,602.28 L543.73,601.94 L545.96,601.60 L548.19,601.25 L550.42,600.91 L552.65,600.55 L554.88,600.20 L557.11,599.84 L559.34,599.47 L561.57,599.11 L563.80,598.74 L566.03,598.36 L568.26,597.99 L570.49,597.61 L572.72,597.22 L574.95,596.83 L577.18,596.44 L579.41,596.05 L581.64,595.65 L583.87,595.25 L586.10,594.84 L588.33,594.43 L590.56,594.02 L592.79,593.60 L595.02,593.18 L597.25,592.75 L599.48,592.32 L601.71,591.89 L603.94,591.45 L606.17,591.01 L608.40,590.56 L610.63,590.11 L612.86,589.66 L615.09,589.20 L617.32,588.74 L619.55,588.28 L621.78,587.81 L624.00,587.33 L626.23,586.85 L628.46,586.37 L630.69,585.88 L632.92,585.39 L635.15,584.90 L637.38,584.39 L639.61,583.89 L641.84,583.38 L644.07,582.87 L646.30,582.35 L648.53,581.83 L650.76,581.30 L652.99,580.77 L655.22,580.23 L657.45,579.69 L659.68,579.14 L661.91,578.59 L664.14,578.04 L666.37,577.48 L668.60,576.91 L670.83,576.34 L673.06,575.77 L675.29,575.19 L677.52,574.61 L679.75,574.02 L681.98,573.42 L684.21,572.83 L686.44,572.22 L688.67,571.61 L690.90,571.00 L693.13,570.38 L695.36,569.76 L697.59,569.13 L699.82,568.49 L702.05,567.85 L704.28,567.21 L706.51,566.56 L708.74,565.91 L710.97,565.24 L713.20,564.58 L715.43,563.91 L717.66,563.23 L719.89,562.55 L722.12,561.86 L724.35,561.17 L726.58,560.48 L728.81,559.77 L731.04,559.06 L733.27,558.35 L735.50,557.63 L737.73,556.91 L739.96,556.18 L742.19,555.44 L744.42,554.70 L746.65,553.95 L748.88,553.20 L751.11,552.44 L753.34,551.68 L755.57,550.91 L757.80,550.14 L760.03,549.36 L762.26,548.57 L764.49,547.78 L766.72,546.98 L768.95,546.18 L771.18,545.37 L773.41,544.55 L775.64,543.73 L777.87,542.91 L780.10,542.08 L782.33,541.24 L784.56,540.39 L786.79,539.55 L789.02,538.69 L791.25,537.83 L793.48,536.96 L795.71,536.09 L797.94,535.21 L800.17,534.33 L802.40,533.44 L804.63,532.54 L806.86,531.64 L809.09,530.74 L811.32,529.82 L813.55,528.90 L815.78,527.98 L818.01,527.05 L820.24,526.11 L822.47,525.17 L824.70,524.22 L826.93,523.27 L829.16,522.31 L831.39,521.34 L833.62,520.37 L835.85,519.40 L838.08,518.41 L840.31,517.43 L842.54,516.43 L844.77,515.43 L847.00,514.43 L849.23,513.42 L851.46,512.40 L853.69,511.38 L855.92,510.35 L858.15,509.31 L860.38,508.27 L862.61,507.23 L864.84,506.18 L867.07,505.12 L869.30,504.06 L871.53,502.99 L873.76,501.92 L875.99,500.84 L878.22,499.76 L880.45,498.67 L882.68,497.57 L884.91,496.47 L887.14,495.37 L889.37,494.26 L891.60,493.14 L893.83,492.02 L896.06,490.89 L898.29,489.76 L900.52,488.62 L902.75,487.48 L904.98,486.33 L907.21,485.18 L909.44,484.03 L911.67,482.86 L913.90,481.70 L916.13,480.52 L918.36,479.35 L920.59,478.16 L922.82,476.98 L925.05,475.79 L927.28,474.59 L929.51,473.39 L931.74,472.18 L933.97,470.97 L936.20,469.76 L938.43,468.54 L940.66,467.32 L942.89,466.09 L945.12,464.86 L947.35,463.62 L949.58,462.38 L951.81,461.14 L954.04,459.89 L956.27,458.64 L958.50,457.38 L960.73,456.12 L962.96,454.86 L965.19,453.59 L967.42,452.32 L969.65,451.04 L971.88,449.76 L974.11,448.48 L976.34,447.19 L978.57,445.90 L980.80,444.61 L983.03,443.31 L985.26,442.01 L987.49,440.71 L989.72,439.41 L991.95,438.10 L994.18,436.79 L996.41,435.47 L998.64,434.15 L1000.87,432.83 L1003.10,431.51 L1005.33,430.19 L1007.56,428.86 L1009.79,427.53 L1012.02,426.20 L1014.25,424.86 L1016.48,423.52 L1018.71,422.19 L1020.94,420.84 L1023.17,419.50 L1025.40,418.16 L1027.63,416.81 L1029.86,415.46 L1032.09,414.11 L1034.32,412.76 L1036.55,411.41 L1038.78,410.05 L1041.01,408.69 L1043.24,407.34 L1045.47,405.98 L1047.70,404.62 L1049.93,403.26 L1052.16,401.90 L1054.39,400.53 L1056.62,399.17 L1058.85,397.81 L1061.08,396.44 L1063.31,395.08 L1065.54,393.71 L1067.77,392.35 L1070.00,390.98" fill="none" stroke="#f7b90f" stroke-width="6.8" stroke-linecap="round" stroke-linejoin="round"/>
<path d="M178.01,630.41 L180.24,630.31 L182.47,630.20 L184.70,630.09 L186.93,629.97 L189.16,629.85 L191.39,629.73 L193.62,629.61 L195.85,629.49 L198.08,629.36 L200.31,629.23 L202.54,629.09 L204.77,628.95 L207.00,628.81 L209.23,628.67 L211.46,628.52 L213.69,628.37 L215.92,628.22 L218.15,628.06 L220.38,627.90 L222.61,627.73 L224.84,627.56 L227.07,627.39 L229.30,627.22 L231.53,627.04 L233.76,626.85 L235.99,626.66 L238.22,626.47 L240.45,626.27 L242.68,626.07 L244.91,625.86 L247.14,625.65 L249.37,625.44 L251.60,625.21 L253.83,624.99 L256.06,624.76 L258.29,624.52 L260.52,624.28 L262.75,624.03 L264.98,623.78 L267.21,623.52 L269.44,623.26 L271.67,622.99 L273.90,622.71 L276.13,622.43 L278.36,622.14 L280.59,621.85 L282.82,621.54 L285.05,621.24 L287.28,620.92 L289.51,620.60 L291.74,620.27 L293.97,619.93 L296.20,619.59 L298.43,619.24 L300.66,618.88 L302.89,618.51 L305.12,618.14 L307.35,617.75 L309.58,617.36 L311.81,616.96 L314.04,616.55 L316.27,616.13 L318.50,615.71 L320.73,615.27 L322.96,614.82 L325.19,614.37 L327.42,613.90 L329.65,613.43 L331.88,612.94 L334.11,612.45 L336.34,611.94 L338.57,611.42 L340.80,610.89 L343.03,610.35 L345.26,609.80 L347.49,609.24 L349.72,608.67 L351.95,608.08 L354.18,607.48 L356.41,606.87 L358.64,606.24 L360.87,605.61 L363.10,604.96 L365.33,604.29 L367.56,603.61 L369.79,602.92 L372.02,602.22 L374.25,601.50 L376.48,600.76 L378.71,600.01 L380.94,599.25 L383.17,598.47 L385.40,597.67 L387.63,596.86 L389.86,596.03 L392.09,595.19 L394.32,594.33 L396.55,593.45 L398.78,592.56 L401.01,591.64 L403.24,590.71 L405.47,589.77 L407.70,588.80 L409.93,587.81 L412.16,586.81 L414.39,585.79 L416.62,584.75 L418.85,583.69 L421.08,582.60 L423.31,581.50 L425.54,580.38 L427.77,579.24 L430.00,578.08 L432.23,576.90 L434.46,575.69 L436.69,574.46 L438.92,573.22 L441.15,571.95 L443.38,570.65 L445.61,569.34 L447.84,568.00 L450.07,566.64 L452.30,565.26 L454.53,563.85 L456.76,562.42 L458.99,560.97 L461.22,559.49 L463.45,557.99 L465.68,556.46 L467.91,554.91 L470.14,553.34 L472.37,551.74 L474.60,550.11 L476.83,548.46 L479.06,546.79 L481.29,545.09 L483.52,543.36 L485.75,541.61 L487.98,539.83 L490.21,538.03 L492.44,536.20 L494.67,534.35 L496.90,532.47 L499.13,530.56 L501.36,528.63 L503.59,526.68 L505.82,524.69 L508.05,522.69 L510.28,520.65 L512.51,518.59 L514.74,516.51 L516.97,514.40 L519.20,512.26 L521.43,510.10 L523.66,507.91 L525.89,505.70 L528.12,503.47 L530.35,501.21 L532.58,498.92 L534.81,496.62 L537.04,494.28 L539.27,491.93 L541.50,489.55 L543.73,487.15 L545.96,484.72 L548.19,482.28 L550.42,479.81 L552.65,477.32 L554.88,474.81 L557.11,472.28 L559.34,469.73 L561.57,467.16 L563.80,464.57 L566.03,461.96 L568.26,459.33 L570.49,456.68 L572.72,454.02 L574.95,451.34 L577.18,448.65 L579.41,445.94 L581.64,443.21 L583.87,440.47 L586.10,437.72 L588.33,434.95 L590.56,432.17 L592.79,429.38 L595.02,426.58 L597.25,423.77 L599.48,420.95 L601.71,418.12 L603.94,415.29 L606.17,412.44 L608.40,409.59 L610.63,406.73 L612.86,403.87 L615.09,401.00 L617.32,398.13 L619.55,395.26 L621.78,392.39 L624.00,389.51 L626.23,386.63 L628.46,383.76 L630.69,380.88 L632.92,378.01 L635.15,375.14 L637.38,372.27 L639.61,369.41 L641.84,366.55 L644.07,363.70 L646.30,360.86 L648.53,358.02 L650.76,355.19 L652.99,352.37 L655.22,349.56 L657.45,346.76 L659.68,343.97 L661.91,341.19 L664.14,338.42 L666.37,335.67 L668.60,332.93 L670.83,330.20 L673.06,327.49 L675.29,324.79 L677.52,322.11 L679.75,319.45 L681.98,316.80 L684.21,314.18 L686.44,311.57 L688.67,308.97 L690.90,306.40 L693.13,303.85 L695.36,301.32 L697.59,298.81 L699.82,296.31 L702.05,293.85 L704.28,291.40 L706.51,288.97 L708.74,286.57 L710.97,284.19 L713.20,281.83 L715.43,279.50 L717.66,277.19 L719.89,274.91 L722.12,272.64 L724.35,270.41 L726.58,268.20 L728.81,266.01 L731.04,263.85 L733.27,261.71 L735.50,259.60 L737.73,257.51 L739.96,255.45 L742.19,253.42 L744.42,251.41 L746.65,249.42 L748.88,247.46 L751.11,245.53 L753.34,243.63 L755.57,241.75 L757.80,239.89 L760.03,238.06 L762.26,236.26 L764.49,234.48 L766.72,232.73 L768.95,231.00 L771.18,229.30 L773.41,227.62 L775.64,225.97 L777.87,224.35 L780.10,222.74 L782.33,221.17 L784.56,219.62 L786.79,218.09 L789.02,216.59 L791.25,215.11 L793.48,213.65 L795.71,212.22 L797.94,210.81 L800.17,209.43 L802.40,208.07 L804.63,206.73 L806.86,205.41 L809.09,204.12 L811.32,202.85 L813.55,201.60 L815.78,200.37 L818.01,199.17 L820.24,197.98 L822.47,196.82 L824.70,195.67 L826.93,194.55 L829.16,193.45 L831.39,192.37 L833.62,191.31 L835.85,190.26 L838.08,189.24 L840.31,188.24 L842.54,187.25 L844.77,186.28 L847.00,185.33 L849.23,184.40 L851.46,183.49 L853.69,182.59 L855.92,181.72 L858.15,180.85 L860.38,180.01 L862.61,179.18 L864.84,178.37 L867.07,177.57 L869.30,176.79 L871.53,176.03 L873.76,175.27 L875.99,174.54 L878.22,173.82 L880.45,173.11 L882.68,172.42 L884.91,171.74 L887.14,171.08 L889.37,170.43 L891.60,169.79 L893.83,169.16 L896.06,168.55 L898.29,167.95 L900.52,167.36 L902.75,166.79 L904.98,166.23 L907.21,165.67 L909.44,165.13 L911.67,164.60 L913.90,164.09 L916.13,163.58 L918.36,163.08 L920.59,162.60 L922.82,162.12 L925.05,161.65 L927.28,161.20 L929.51,160.75 L931.74,160.32 L933.97,159.89 L936.20,159.47 L938.43,159.06 L940.66,158.66 L942.89,158.27 L945.12,157.88 L947.35,157.51 L949.58,157.14 L951.81,156.78 L954.04,156.43 L956.27,156.08 L958.50,155.75 L960.73,155.42 L962.96,155.09 L965.19,154.78 L967.42,154.47 L969.65,154.17 L971.88,153.87 L974.11,153.58 L976.34,153.30 L978.57,153.03 L980.80,152.76 L983.03,152.49 L985.26,152.23 L987.49,151.98 L989.72,151.73 L991.95,151.49 L994.18,151.25 L996.41,151.02 L998.64,150.80 L1000.87,150.58 L1003.10,150.36 L1005.33,150.15 L1007.56,149.94 L1009.79,149.74 L1012.02,149.54 L1014.25,149.35 L1016.48,149.16 L1018.71,148.97 L1020.94,148.79 L1023.17,148.62 L1025.40,148.44 L1027.63,148.28 L1029.86,148.11 L1032.09,147.95 L1034.32,147.79 L1036.55,147.64 L1038.78,147.49 L1041.01,147.34 L1043.24,147.19 L1045.47,147.05 L1047.70,146.92 L1049.93,146.78 L1052.16,146.65 L1054.39,146.52 L1056.62,146.40 L1058.85,146.27 L1061.08,146.15 L1063.31,146.04 L1065.54,145.92 L1067.77,145.81 L1070.00,145.70" fill="none" stroke="#d81010" stroke-width="5.5" stroke-linecap="round" stroke-linejoin="round"/>
</g>
<text x="167.5" y="394.7" font-size="28.0" font-weight="bold" font-style="italic" fill="#111111" textLength="67.5" lengthAdjust="spacingAndGlyphs">500%</text>
<text x="167.5" y="431.7" font-size="28.0" font-weight="bold" font-style="italic" fill="#111111" textLength="52.5" lengthAdjust="spacingAndGlyphs">(Nu)</text>
<text x="526.7" y="390.8" font-size="28.0" font-weight="bold" font-style="italic" fill="#111111" textLength="51.3" lengthAdjust="spacingAndGlyphs">70%</text>
<text x="479.7" y="427.5" font-size="28.0" font-weight="bold" font-style="italic" fill="#111111" textLength="99.5" lengthAdjust="spacingAndGlyphs">~(Delta)</text>
<text x="953.0" y="401.7" font-size="28.0" font-weight="bold" font-style="italic" fill="#111111" textLength="52.8" lengthAdjust="spacingAndGlyphs">30%</text>
<line x1="243.0" y1="387.7" x2="260.4" y2="387.0" stroke="#2a2a2a" stroke-width="1.6"/>
<path d="M258.4,379.4 L273.4,387.0 L258.4,394.6 Z" fill="#111"/>
<line x1="579.0" y1="388.3" x2="602.8" y2="387.6" stroke="#2a2a2a" stroke-width="1.6"/>
<path d="M600.8,380.0 L616.7,387.6 L600.8,395.2 Z" fill="#111"/>
<line x1="1008.3" y1="389.0" x2="1032.8" y2="388.3" stroke="#2a2a2a" stroke-width="1.6"/>
<path d="M1030.8,380.7 L1046.7,388.3 L1030.8,395.9 Z" fill="#111"/>
<line x1="240.8" y1="762" x2="309.2" y2="762" stroke="#b00005" stroke-width="5.6" stroke-linecap="round"/>
<line x1="240.5" y1="817" x2="309.5" y2="817" stroke="#f7b90f" stroke-width="5" stroke-linecap="round"/>
<line x1="708.25" y1="762" x2="775" y2="762" stroke="#2895c3" stroke-width="5.7" stroke-dasharray="0.3 12.95" stroke-linecap="round" stroke-dashoffset="0.15"/>
<line x1="709.8" y1="817.8" x2="776.5" y2="817.8" stroke="#d81010" stroke-width="4.5" stroke-linecap="round"/>
<text x="317.5" y="771.3" font-size="28.0" fill="#5e5e5e" textLength="65.0" lengthAdjust="spacingAndGlyphs">500%</text>
<text x="391.2" y="771.3" font-size="28.0" fill="#5e5e5e" textLength="130.0" lengthAdjust="spacingAndGlyphs">Advantage</text>
<text x="317.5" y="825.5" font-size="28.0" fill="#5e5e5e" textLength="48.8" lengthAdjust="spacingAndGlyphs">30%</text>
<text x="376.2" y="825.5" font-size="28.0" fill="#5e5e5e" textLength="128.8" lengthAdjust="spacingAndGlyphs">Advantage</text>
<text x="787.5" y="771.3" font-size="28.0" fill="#5e5e5e" textLength="102.0" lengthAdjust="spacingAndGlyphs">Previous</text>
<text x="898.0" y="771.3" font-size="28.0" fill="#5e5e5e" textLength="70.8" lengthAdjust="spacingAndGlyphs">Strain</text>
<text x="788.0" y="825.5" font-size="28.0" fill="#5e5e5e" textLength="49.0" lengthAdjust="spacingAndGlyphs">70%</text>
<text x="846.2" y="825.5" font-size="28.0" fill="#5e5e5e" textLength="128.2" lengthAdjust="spacingAndGlyphs">Advantage</text>
</svg></body></html>
